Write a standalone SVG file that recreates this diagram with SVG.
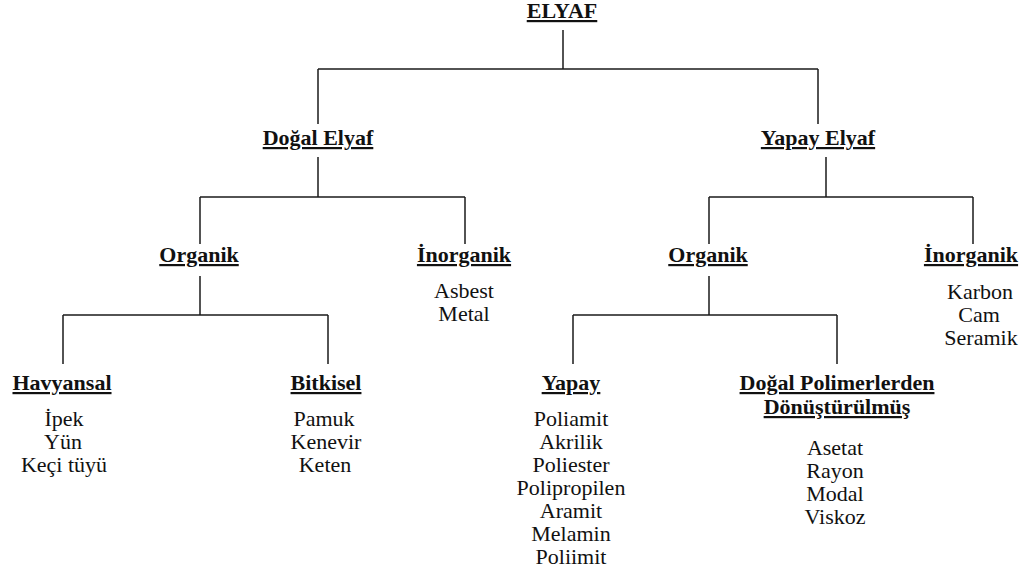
<svg xmlns="http://www.w3.org/2000/svg" width="1029" height="573" viewBox="0 0 1029 573">
<style>
text{font-size:22px;fill:#111;text-anchor:middle}
.h{font-weight:bold;text-decoration:underline;text-decoration-thickness:2px}
.c line{stroke:#1a1a1a;stroke-width:1.5;fill:none}
</style>
<rect width="1029" height="573" fill="#fff"/>
<g class="c" id="connectors">
<line x1="563" y1="30" x2="563" y2="69"/>
<line x1="318" y1="69" x2="818" y2="69"/>
<line x1="318" y1="69" x2="318" y2="124"/>
<line x1="818" y1="69" x2="818" y2="124"/>
<line x1="318" y1="157" x2="318" y2="197"/>
<line x1="200" y1="197" x2="465" y2="197"/>
<line x1="200" y1="197" x2="200" y2="244"/>
<line x1="465" y1="197" x2="465" y2="244"/>
<line x1="826" y1="157" x2="826" y2="197"/>
<line x1="709" y1="197" x2="973" y2="197"/>
<line x1="709" y1="197" x2="709" y2="244"/>
<line x1="973" y1="197" x2="973" y2="244"/>
<line x1="200" y1="276" x2="200" y2="315"/>
<line x1="63" y1="315" x2="328" y2="315"/>
<line x1="63" y1="315" x2="63" y2="364"/>
<line x1="328" y1="315" x2="328" y2="364"/>
<line x1="709" y1="276" x2="709" y2="315"/>
<line x1="573" y1="315" x2="837" y2="315"/>
<line x1="573" y1="315" x2="573" y2="364"/>
<line x1="837" y1="315" x2="837" y2="364"/>
</g>
<g font-family="Liberation Serif, Times New Roman, serif">
<g id="elyaf"><text class="h" x="562" y="18">ELYAF</text></g>
<g id="dogal-elyaf"><text class="h" x="318" y="145">Doğal Elyaf</text></g>
<g id="yapay-elyaf"><text class="h" x="818" y="145">Yapay Elyaf</text></g>
<g id="organik-1"><text class="h" x="199" y="262">Organik</text></g>
<g id="inorganik-1"><text class="h" x="464" y="262">İnorganik</text>
<text x="464" y="298">Asbest</text><text x="464" y="321">Metal</text></g>
<g id="organik-2"><text class="h" x="708" y="262">Organik</text></g>
<g id="inorganik-2"><text class="h" x="971" y="262">İnorganik</text>
<text x="980" y="299">Karbon</text><text x="979" y="322">Cam</text><text x="981" y="345">Seramik</text></g>
<g id="havyansal"><text class="h" x="62" y="390">Havyansal</text>
<text x="64" y="426">İpek</text><text x="63" y="449">Yün</text><text x="64" y="472">Keçi tüyü</text></g>
<g id="bitkisel"><text class="h" x="326" y="390">Bitkisel</text>
<text x="324" y="426">Pamuk</text><text x="326" y="449">Kenevir</text><text x="325" y="472">Keten</text></g>
<g id="yapay"><text class="h" x="571" y="390">Yapay</text>
<text x="571" y="426">Poliamit</text><text x="571" y="449">Akrilik</text><text x="571" y="472">Poliester</text><text x="571" y="495">Polipropilen</text><text x="571" y="518">Aramit</text><text x="571" y="541">Melamin</text><text x="571" y="564">Poliimit</text></g>
<g id="dogal-polimer"><text class="h" x="837" y="390">Doğal Polimerlerden</text><text class="h" x="837" y="414">Dönüştürülmüş</text>
<text x="835" y="455">Asetat</text><text x="835" y="478">Rayon</text><text x="835" y="501">Modal</text><text x="835" y="524">Viskoz</text></g>
</g>
</svg>
